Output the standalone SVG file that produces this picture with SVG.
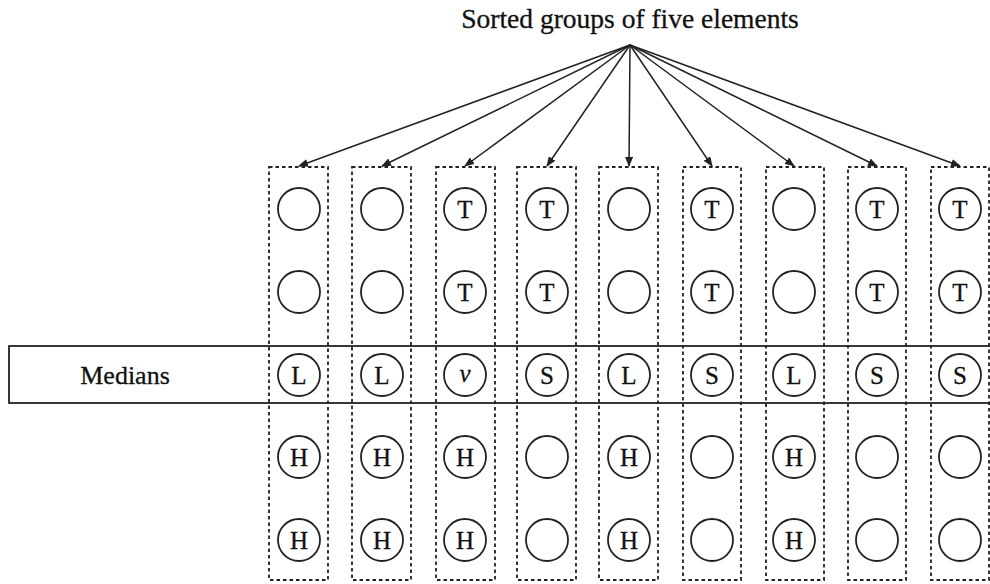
<svg xmlns="http://www.w3.org/2000/svg" width="990" height="584" viewBox="0 0 990 584">
<style>
.box{fill:none;stroke:#222;stroke-width:1.8;stroke-dasharray:3.5 3}
.c{fill:none;stroke:#222;stroke-width:1.8}
.t{font-family:"Liberation Serif",serif;font-size:25px;fill:#111;stroke:#111;stroke-width:0.3;text-anchor:middle}
.conn line{stroke:#222;stroke-width:1.5;marker-end:url(#ah)}
.lbl{font-family:"Liberation Serif",serif;fill:#111;stroke:#111;stroke-width:0.3;text-anchor:middle}
</style>
<defs>
<marker id="ah" markerWidth="10" markerHeight="8" refX="9" refY="4" orient="auto" markerUnits="userSpaceOnUse">
<path d="M0,0 L10,4 L0,8 Z" fill="#222"/>
</marker>
</defs>
<rect width="990" height="584" fill="#fff"/>
<text class="lbl" x="630" y="28" font-size="27.5">Sorted groups of five elements</text>
<g id="medians">
<rect x="9" y="346" width="990" height="57" fill="none" stroke="#222" stroke-width="1.8"/>
<text class="lbl" x="125" y="384" font-size="26">Medians</text>
</g>
<g class="conn" id="connectors">
<line x1="630" y1="45" x2="299" y2="166"/>
<line x1="630" y1="45" x2="382" y2="166"/>
<line x1="630" y1="45" x2="465" y2="166"/>
<line x1="630" y1="45" x2="547" y2="166"/>
<line x1="630" y1="45" x2="629" y2="166"/>
<line x1="630" y1="45" x2="712" y2="166"/>
<line x1="630" y1="45" x2="794" y2="166"/>
<line x1="630" y1="45" x2="877" y2="166"/>
<line x1="630" y1="45" x2="960" y2="166"/>
</g>
<g id="col1">
<rect class="box" x="269" y="167" width="59" height="413"/>
<circle class="c" cx="299" cy="209" r="21"/>
<circle class="c" cx="299" cy="292" r="21"/>
<circle class="c" cx="299" cy="375" r="21"/><text class="t" x="299" y="384">L</text>
<circle class="c" cx="299" cy="457" r="21"/><text class="t" x="299" y="466">H</text>
<circle class="c" cx="299" cy="540" r="21"/><text class="t" x="299" y="549">H</text>
</g>
<g id="col2">
<rect class="box" x="352" y="167" width="59" height="413"/>
<circle class="c" cx="382" cy="209" r="21"/>
<circle class="c" cx="382" cy="292" r="21"/>
<circle class="c" cx="382" cy="375" r="21"/><text class="t" x="382" y="384">L</text>
<circle class="c" cx="382" cy="457" r="21"/><text class="t" x="382" y="466">H</text>
<circle class="c" cx="382" cy="540" r="21"/><text class="t" x="382" y="549">H</text>
</g>
<g id="col3">
<rect class="box" x="436" y="167" width="59" height="413"/>
<circle class="c" cx="465" cy="209" r="21"/><text class="t" x="465" y="218">T</text>
<circle class="c" cx="465" cy="292" r="21"/><text class="t" x="465" y="301">T</text>
<circle class="c" cx="465" cy="375" r="21"/><text class="t" x="465" y="382" font-style="italic" font-size="20">v</text>
<circle class="c" cx="465" cy="457" r="21"/><text class="t" x="465" y="466">H</text>
<circle class="c" cx="465" cy="540" r="21"/><text class="t" x="465" y="549">H</text>
</g>
<g id="col4">
<rect class="box" x="517" y="167" width="59" height="413"/>
<circle class="c" cx="547" cy="209" r="21"/><text class="t" x="547" y="218">T</text>
<circle class="c" cx="547" cy="292" r="21"/><text class="t" x="547" y="301">T</text>
<circle class="c" cx="547" cy="375" r="21"/><text class="t" x="547" y="384">S</text>
<circle class="c" cx="547" cy="457" r="21"/>
<circle class="c" cx="547" cy="540" r="21"/>
</g>
<g id="col5">
<rect class="box" x="599" y="167" width="59" height="413"/>
<circle class="c" cx="629" cy="209" r="21"/>
<circle class="c" cx="629" cy="292" r="21"/>
<circle class="c" cx="629" cy="375" r="21"/><text class="t" x="629" y="384">L</text>
<circle class="c" cx="629" cy="457" r="21"/><text class="t" x="629" y="466">H</text>
<circle class="c" cx="629" cy="540" r="21"/><text class="t" x="629" y="549">H</text>
</g>
<g id="col6">
<rect class="box" x="683" y="167" width="58" height="413"/>
<circle class="c" cx="712" cy="209" r="21"/><text class="t" x="712" y="218">T</text>
<circle class="c" cx="712" cy="292" r="21"/><text class="t" x="712" y="301">T</text>
<circle class="c" cx="712" cy="375" r="21"/><text class="t" x="712" y="384">S</text>
<circle class="c" cx="712" cy="457" r="21"/>
<circle class="c" cx="712" cy="540" r="21"/>
</g>
<g id="col7">
<rect class="box" x="766" y="167" width="58" height="413"/>
<circle class="c" cx="794" cy="209" r="21"/>
<circle class="c" cx="794" cy="292" r="21"/>
<circle class="c" cx="794" cy="375" r="21"/><text class="t" x="794" y="384">L</text>
<circle class="c" cx="794" cy="457" r="21"/><text class="t" x="794" y="466">H</text>
<circle class="c" cx="794" cy="540" r="21"/><text class="t" x="794" y="549">H</text>
</g>
<g id="col8">
<rect class="box" x="848" y="167" width="58" height="413"/>
<circle class="c" cx="877" cy="209" r="21"/><text class="t" x="877" y="218">T</text>
<circle class="c" cx="877" cy="292" r="21"/><text class="t" x="877" y="301">T</text>
<circle class="c" cx="877" cy="375" r="21"/><text class="t" x="877" y="384">S</text>
<circle class="c" cx="877" cy="457" r="21"/>
<circle class="c" cx="877" cy="540" r="21"/>
</g>
<g id="col9">
<rect class="box" x="931" y="167" width="58" height="413"/>
<circle class="c" cx="960" cy="209" r="21"/><text class="t" x="960" y="218">T</text>
<circle class="c" cx="960" cy="292" r="21"/><text class="t" x="960" y="301">T</text>
<circle class="c" cx="960" cy="375" r="21"/><text class="t" x="960" y="384">S</text>
<circle class="c" cx="960" cy="457" r="21"/>
<circle class="c" cx="960" cy="540" r="21"/>
</g>
</svg>
